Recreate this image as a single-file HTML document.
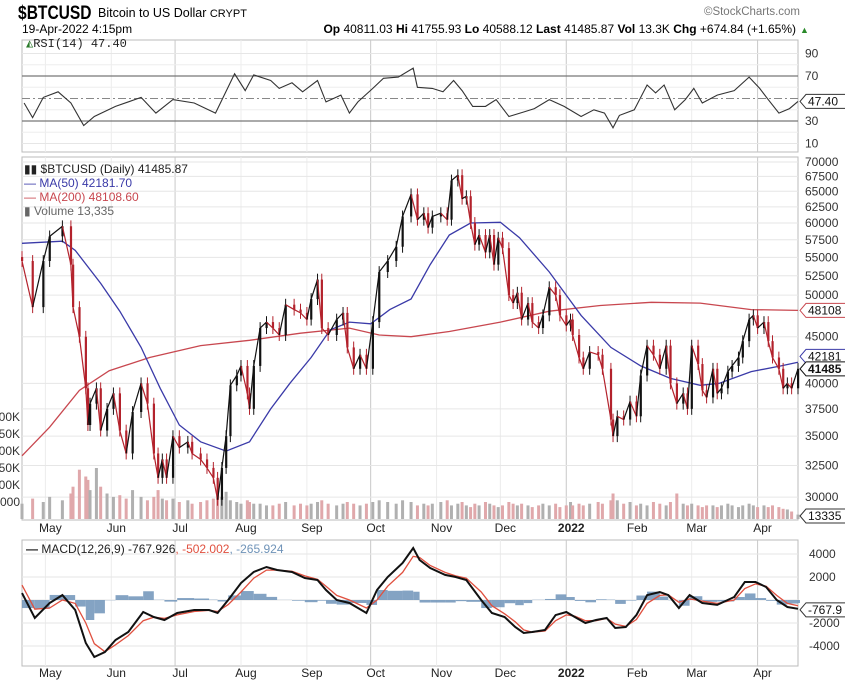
<!DOCTYPE html>
<html><head><meta charset="utf-8">
<style>
html,body{margin:0;padding:0;background:#fff;width:845px;height:684px;overflow:hidden}
svg{display:block}
text{font-family:"Liberation Sans",sans-serif}
</style></head>
<body>
<svg id="chart" width="845" height="684" viewBox="0 0 845 684" xmlns="http://www.w3.org/2000/svg">
  <g>
    <text x="22" y="19" font-size="19" font-weight="bold" transform="scale(0.82,1)" style="font-family:'Liberation Sans Narrow','Liberation Sans',sans-serif">$BTCUSD</text>
    <text x="98" y="17" font-size="12.5">Bitcoin to US Dollar <tspan font-size="11">CRYPT</tspan></text>
    <text x="800" y="15" font-size="11.5" fill="#777" text-anchor="end">©StockCharts.com</text>
    <text x="22" y="33" font-size="12">19-Apr-2022 4:15pm</text>
    <text x="796" y="33" font-size="12" text-anchor="end"><tspan font-weight="bold">Op</tspan> 40811.03 <tspan font-weight="bold">Hi</tspan> 41755.93 <tspan font-weight="bold">Lo</tspan> 40588.12 <tspan font-weight="bold">Last</tspan> 41485.87 <tspan font-weight="bold">Vol</tspan> 13.3K <tspan font-weight="bold">Chg</tspan> +674.84 (+1.65%)</text>
    <text x="800" y="33" font-size="9" fill="#2a8a2a">▲</text>
  </g>
  <g id="grid"></g>
  <g id="marks"></g>
  <g id="labels"></g>
</svg>
<script>
// ---------- data ----------
const priceDays = [0,5,10,13,19,23,24,27,30,31,32,35,37,40,43,46,49,52,56,59,62,64,66,68,71,74,78,80,84,87,90,92,94,96,98,101,103,106,107,109,112,115,118,121,124,128,131,134,136,139,141,144,148,151,153,156,159,162,165,168,172,176,179,183,186,189,191,193,197,200,202,205,207,209,211,213,215,218,220,222,224,226,229,231,233,235,238,240,243,245,248,251,253,256,258,259,262,264,267,271,273,277,278,280,283,286,289,291,294,297,300,303,305,308,311,313,315,318,320,322,325,327,329,332,334,337,339,342,344,346,349,351,353,356,358,360,362,365];
const priceClose = [54.5,48.5,54.5,58,59.5,54,48.5,45,39.5,36,38,39.5,35.5,37.5,39,35.5,33.5,37.2,40,38,33.5,31.5,33,31.5,35,34,34.5,33.5,33,32.3,31.5,29.8,32.3,35,39.8,40.8,41.8,39,37.5,41.8,46,46.7,46,45.2,48.8,48.2,47.8,47,49.5,52,46,45.2,47,47.8,43.8,41.5,43,41.5,46.7,53,54.5,56.5,61,64.5,60.5,61.5,59.3,61,61.5,60.5,66.8,67.7,63.8,64.2,60,56.8,58.2,55.7,58.2,54,57.8,56.3,50,49,50.3,47,49,46.7,46,47.5,51,50,47.5,46.3,47,45.2,42.7,41.5,43.3,43,41.5,36.5,35,36.8,36.5,38.2,36.8,40.8,44,43,41.5,44,40,38,39,37.5,44,42,39.3,38.6,41.5,39,39.5,41.2,41.8,42.7,44.5,47,47.5,46,46.7,44.5,42.7,41.5,39.5,40,39.5,41.49];
const volumeK = [45,60,50,65,55,75,95,145,125,115,85,150,95,75,65,70,60,85,65,55,65,85,60,55,60,50,55,45,50,55,60,70,65,80,55,50,45,55,50,45,45,40,40,45,50,40,45,40,45,50,55,45,40,45,50,45,40,45,50,55,50,45,55,50,40,45,40,45,50,55,40,45,50,40,35,45,40,50,45,40,35,40,50,45,40,45,40,35,40,45,40,45,35,40,50,40,45,40,45,50,45,55,75,55,45,50,40,45,40,50,45,40,50,75,45,40,45,40,35,40,40,35,40,45,40,35,40,45,40,35,40,35,40,35,30,28,22,13];
const ma50Days = [0,19,25,37,46,56,65,74,84,96,107,117,126,136,145,154,164,173,183,192,201,211,225,234,248,263,277,291,305,319,328,343,357,365];
const ma50 = [57,57.3,56,51.5,48,43.8,39.5,36,34.5,33.7,34.5,37.5,40,42.7,45.8,46.7,46.5,48.2,49.5,54,58.2,60,60.1,57.8,53,47.5,43.8,41.8,40.5,39.8,40,41.2,41.8,42.2];
const ma200Days = [0,13,27,41,60,84,107,131,154,168,183,201,225,248,272,296,319,343,365];
const ma200 = [33.3,35.8,39.3,41.3,42.7,44,44.6,45.4,46,45.2,45,45.6,46.7,48,48.7,49.1,49,48.2,48.1];
const rsiDays = [1,5,10,17,23,29,34,44,56,63,71,81,91,100,105,109,117,121,127,132,139,143,150,154,158,165,170,177,184,186,193,198,203,207,212,218,223,229,236,241,248,255,263,269,274,278,281,288,294,298,302,307,312,316,320,327,335,342,347,351,356,361,365];
const rsiValues = [46,33,51,56,46,26,34,43,51,37,49,46,37,72,57,71,66,59,64,56,66,47,53,37,47,59,68,69,77,60,59,56,66,57,43,43,49,34,38,41,49,43,34,40,37,24,35,40,62,55,62,40,49,59,46,53,57,69,59,49,37,41,47.4];
const macdDays = [0,6,13,19,25,30,34,39,44,50,57,62,67,73,81,88,92,97,103,109,115,120,127,133,139,143,148,154,162,167,172,179,184,187,192,199,204,209,216,221,227,232,236,240,246,251,256,260,265,270,275,279,284,289,294,300,304,309,314,320,327,335,340,345,350,355,360,365];
const macdValues = [600,-1570,-260,430,-870,-3740,-4960,-4520,-3480,-2780,-1040,-1480,-1740,-1130,-870,-870,-1130,0,1480,2440,2870,2610,2440,1910,1740,870,0,-260,-1130,870,2000,3220,4520,3480,2780,2180,2000,1740,0,-1130,-1480,-2350,-2870,-2780,-2610,-1310,-1040,-1480,-2000,-1740,-1570,-2440,-2350,-1310,430,700,430,-700,430,-260,-430,260,1570,1570,1130,0,-610,-768];
const signalValues = [1300,-800,-700,0,-300,-2000,-3800,-4500,-3900,-3100,-1800,-1500,-1600,-1300,-1000,-900,-1000,-400,700,1900,2600,2600,2500,2100,1800,1200,400,0,-700,0,1200,2400,3800,3700,3000,2400,2100,1900,700,-500,-1200,-1900,-2600,-2800,-2700,-1800,-1300,-1400,-1800,-1800,-1600,-2100,-2300,-1700,-300,400,450,-200,100,-100,-300,0,1000,1400,1200,400,-300,-502];
const priceTicks = [70000,67500,65000,62500,60000,57500,55000,52500,50000,45000,40000,37500,35000,32500,30000];
const volTicks = ['300K','250K','200K','150K','100K','50000'];
const volTickVals = [300,250,200,150,100,50];
const rsiTicks = [90,70,30,10];
const macdTicks = [4000,2000,-2000,-4000];
const monthLabels = ['May','Jun','Jul','Aug','Sep','Oct','Nov','Dec','2022','Feb','Mar','Apr'];
const monthDays = [11,42,72,103,134,164,195,225,256,287,315,346];

// ---------- scales ----------
const L=22,R=798;
const X=d=>L+d*(R-L)/365;
const PY=p=>162+(Math.log(70)-Math.log(p))*395.5;
const RY=v=>98.5-(v-50)*1.125;
const MY=v=>600-v/87;
const VY=v=>519-v*0.34;

const NS='http://www.w3.org/2000/svg';
function mk(tag,attrs,parent,text){const e=document.createElementNS(NS,tag);for(const k in attrs)e.setAttribute(k,attrs[k]);if(text!==undefined)e.textContent=text;parent.appendChild(e);return e;}
const grid=document.getElementById('grid'),marks=document.getElementById('marks'),labels=document.getElementById('labels');

const panels=[['rsi-panel',40,152],['price-panel',157,520],['macd-panel',540,666]];
panels.forEach(p=>{
  const r=mk('rect',{x:L,y:p[1],width:R-L,height:p[2]-p[1],fill:'#fff',stroke:'#bbb'},grid);
  
  
});
monthDays.forEach((d,i)=>{
  const q=(i%3===2);
  panels.forEach(p=>{
    const l=mk('line',{x1:X(d),x2:X(d),y1:p[1],y2:p[2],stroke:q?'#c8c8c8':'#ececec'},grid);
    
    
  });
  [532,677].forEach(y=>{
    const t=mk('text',{x:X(d)+5,y:y,'font-size':12,'text-anchor':'middle','font-weight':i===8?'bold':'normal',fill:'#222'},labels,monthLabels[i]);
    
    
  });
});
priceTicks.forEach(v=>{
  const y=PY(v/1000);
  const l=mk('line',{x1:L,x2:R,y1:y,y2:y,stroke:'#e6e6e6'},grid);
  
  
  const t=mk('text',{x:805,y:y+4,'font-size':12,fill:'#333'},labels,String(v));
  
  
});
volTicks.forEach((s,i)=>{
  const t=mk('text',{x:20,y:VY(volTickVals[i])+4,'font-size':12,'text-anchor':'end',fill:'#333'},labels,s);
  
  
});
rsiTicks.forEach(v=>{
  const y=RY(v),strong=(v===70||v===30);
  const l=mk('line',{x1:L,x2:R,y1:y,y2:y,stroke:strong?'#777':'#e6e6e6','stroke-width':strong?1.3:1},grid);
  
  
  const t=mk('text',{x:805,y:y+4,'font-size':12,fill:'#333'},labels,String(v));
  
  
});
[20,40,60,80].forEach(v=>{const l=mk('line',{x1:L,x2:R,y1:RY(v),y2:RY(v),stroke:'#eee'},grid);});
const mid=mk('line',{x1:L,x2:R,y1:RY(50),y2:RY(50),stroke:'#888','stroke-dasharray':'8,3,2,3'},grid);


macdTicks.concat([0]).forEach(v=>{
  const y=MY(v);
  const l=mk('line',{x1:L,x2:R,y1:y,y2:y,stroke:'#e6e6e6'},grid);
  
  
  if(v!==0){const t=mk('text',{x:809,y:y+4,'font-size':12,fill:'#333'},labels,String(v));
  
  }
});

volumeK.forEach((v,i)=>{
  const up=i===0||priceClose[i]>=priceClose[i-1];
  const b=mk('rect',{x:X(priceDays[i])-1.5,y:VY(v),width:3,height:519-VY(v),fill:up?'#b0b0b0':'#e0a8ab'},marks);
  
  
});
function line(days,vals,yf,color,name,w){
  const d=days.map((dd,i)=>(i?'L':'M')+X(dd).toFixed(1)+','+yf(vals[i]).toFixed(1)).join('');
  const p=mk('path',{d:d,fill:'none',stroke:color,'stroke-width':w||1.3},marks);
  
  
}
line(ma200Days,ma200,PY,'#c8474f','ma200-line');
line(ma50Days,ma50,PY,'#3a3aa8','ma50-line');
priceClose.forEach((c,i)=>{
  const o=i?priceClose[i-1]:c*1.01;
  const up=c>=o;
  const col=up?'#111':'#b3222c';
  const x=X(priceDays[i]);
  const hi=Math.max(o,c)*1.015,lo=Math.min(o,c)*0.985;
  const w=mk('line',{x1:x,x2:x,y1:PY(hi),y2:PY(lo),stroke:col,'stroke-width':1},marks);
  
  
  const px=i?X(priceDays[i-1]):x;
  const s=mk('line',{x1:px,x2:x,y1:PY(o),y2:PY(c),stroke:col,'stroke-width':1.2},marks);
  
  
  const b=mk('rect',{x:x-1,y:PY(Math.max(o,c)),width:2.2,height:Math.max(1,Math.abs(PY(o)-PY(c))),fill:col},marks);
  
  
});
line(rsiDays,rsiValues,RY,'#333','rsi-line',1.1);
macdValues.forEach((m,i)=>{
  const h=m-signalValues[i];
  const x0=X(macdDays[i]),x1=i<macdDays.length-1?X(macdDays[i+1]):x0+2;
  const y0=MY(0),y1=MY(h);
  const b=mk('rect',{x:x0,y:Math.min(y0,y1),width:Math.max(1,x1-x0),height:Math.abs(y1-y0),fill:'#6f93b8','fill-opacity':0.85},marks);
  
  
});
line(macdDays,signalValues,MY,'#e0503f','macd-signal-line',1.3);
line(macdDays,macdValues,MY,'#111','macd-line',2);

function tag(y,txt,col,name,bold){
  const g=mk('g',{},labels);
  
  
  mk('path',{d:`M800,${y} L806,${y-7} L850,${y-7} L850,${y+7} L806,${y+7} Z`,fill:'#fff',stroke:col},g);
  mk('text',{x:808,y:y+4,'font-size':12,'font-weight':bold?'bold':'normal',fill:'#111'},g,txt);
}
tag(PY(48.1),'48108','#c8474f','ma200-value-tag');
tag(PY(42.6)-2,'42181','#3a3aa8','ma50-value-tag');
tag(PY(41.49),'41485','#111','last-price-tag',true);
tag(516,'13335','#333','volume-value-tag');
tag(RY(47.4),'47.40','#333','rsi-value-tag');
tag(MY(-768)+1,'-767.9','#333','macd-value-tag');
</script>
<div style="position:absolute;left:0;top:0;width:845px;height:684px;pointer-events:none">
  <div style="position:absolute;left:26px;top:36px;font:12px 'Liberation Mono','DejaVu Sans Mono',monospace;color:#222"><span style="color:#2a7a2a">◭</span>RSI(14) 47.40</div>
  <div style="position:absolute;left:24px;top:162px;font:12px 'Liberation Sans',sans-serif;line-height:14px;color:#222">
    <div>▮▮ $BTCUSD (Daily) 41485.87</div>
    <div style="color:#3a3aa8">— MA(50) 42181.70</div>
    <div style="color:#c8474f">— MA(200) 48108.60</div>
    <div style="color:#666">▮ Volume 13,335</div>
  </div>
  <div style="position:absolute;left:26px;top:542px;font:12px 'Liberation Sans',sans-serif;color:#222"><b>—</b> MACD(12,26,9) -767.926<span style="color:#e0503f">, -502.002</span><span style="color:#6f93b8">, -265.924</span></div>
</div>
</body></html>
